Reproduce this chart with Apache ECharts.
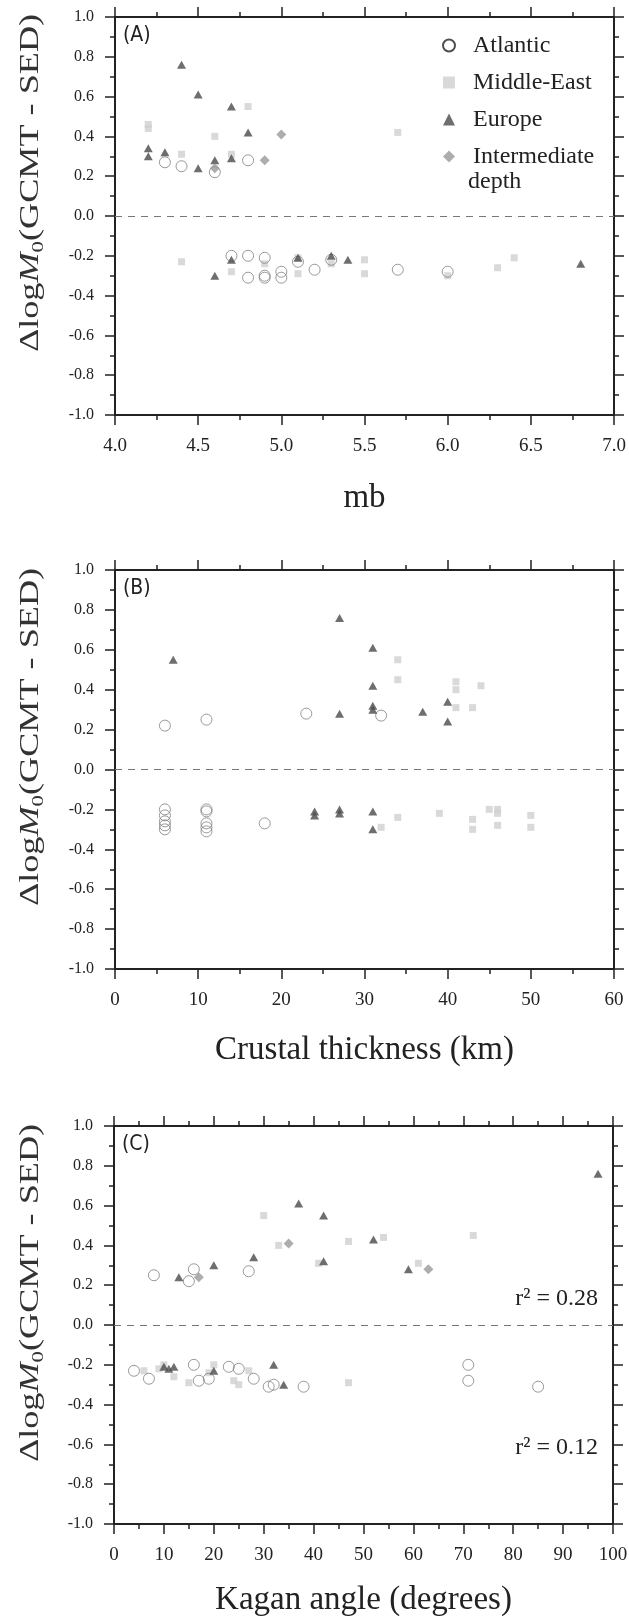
<!DOCTYPE html>
<html>
<head>
<meta charset="utf-8">
<script src="https://cdn.jsdelivr.net/npm/echarts@6/dist/echarts.min.js"></script>
<style>
  html, body { margin: 0; padding: 0; background: #fff; }
  #box { width: 629px; height: 1616px; }
</style>
</head>
<body>
<div id="box"></div>
<script>
// (A) mb
const atlanticA = [[4.3,0.27],[4.4,0.25],[4.6,0.22],[4.8,0.28],[4.7,-0.20],[4.8,-0.20],[4.9,-0.21],[4.8,-0.31],[4.9,-0.30],[4.9,-0.31],[5.0,-0.28],[5.0,-0.31],[5.1,-0.23],[5.2,-0.27],[5.3,-0.22],[5.7,-0.27],[6.0,-0.28]];
const middleEastA = [[4.2,0.44],[4.2,0.46],[4.8,0.55],[4.6,0.40],[4.4,0.31],[4.7,0.31],[5.7,0.42],[4.4,-0.23],[4.7,-0.28],[4.9,-0.24],[5.1,-0.21],[5.1,-0.29],[5.3,-0.24],[5.5,-0.22],[5.5,-0.29],[6.0,-0.30],[6.3,-0.26],[6.4,-0.21]];
const europeA = [[4.4,0.76],[4.5,0.61],[4.7,0.55],[4.8,0.42],[4.2,0.34],[4.2,0.30],[4.3,0.32],[4.5,0.24],[4.6,0.28],[4.7,0.29],[4.6,-0.30],[4.7,-0.22],[5.1,-0.21],[5.3,-0.20],[5.4,-0.22],[6.8,-0.24]];
const intermediateA = [[5.0,0.41],[4.9,0.28],[4.6,0.24]];

// (B) crustal thickness
const atlanticB = [[6,0.22],[11,0.25],[23,0.28],[32,0.27],[6,-0.20],[6,-0.23],[6,-0.26],[6,-0.28],[6,-0.30],[11,-0.20],[11,-0.21],[11,-0.27],[11,-0.29],[11,-0.31],[18,-0.27]];
const middleEastB = [[34,0.55],[34,0.45],[41,0.44],[41,0.40],[44,0.42],[41,0.31],[43,0.31],[32,-0.29],[34,-0.24],[39,-0.22],[43,-0.25],[43,-0.30],[45,-0.20],[46,-0.20],[46,-0.22],[46,-0.28],[50,-0.23],[50,-0.29]];
const europeB = [[27,0.76],[7,0.55],[31,0.61],[31,0.42],[31,0.32],[31,0.30],[27,0.28],[37,0.29],[40,0.34],[40,0.24],[24,-0.21],[24,-0.23],[27,-0.20],[27,-0.22],[31,-0.21],[31,-0.30]];
const intermediateB = [];

// (C) kagan angle
const atlanticC = [[8,0.25],[15,0.22],[16,0.28],[27,0.27],[4,-0.23],[7,-0.27],[16,-0.20],[17,-0.28],[19,-0.27],[23,-0.21],[25,-0.22],[28,-0.27],[31,-0.31],[32,-0.30],[38,-0.31],[71,-0.20],[71,-0.28],[85,-0.31]];
const middleEastC = [[30,0.55],[33,0.40],[47,0.42],[54,0.44],[72,0.45],[41,0.31],[61,0.31],[6,-0.23],[9,-0.22],[10,-0.20],[12,-0.26],[15,-0.29],[19,-0.24],[20,-0.20],[24,-0.28],[25,-0.30],[27,-0.23],[47,-0.29]];
const europeC = [[97,0.76],[37,0.61],[42,0.55],[52,0.43],[28,0.34],[20,0.30],[42,0.32],[59,0.28],[13,0.24],[10,-0.21],[11,-0.22],[12,-0.21],[20,-0.23],[32,-0.20],[34,-0.30]];
const intermediateC = [[35,0.41],[17,0.24],[63,0.28]];

const seriesNames = ['Atlantic', 'Middle-East', 'Europe', 'Intermediate depth'];
const panelLabels = ['(A)', '(B)', '(C)'];
const xTitles = ['mb', 'Crustal thickness (km)', 'Kagan angle (degrees)'];
const xRanges = [[4, 7, 0.5], [0, 60, 10], [0, 100, 10]];
const yRange = [-1, 1, 0.2];
const r2Labels = ['r\u00b2 = 0.28', 'r\u00b2 = 0.12'];

const panels = [
  { 'Atlantic': atlanticA, 'Middle-East': middleEastA, 'Europe': europeA, 'Intermediate depth': intermediateA },
  { 'Atlantic': atlanticB, 'Middle-East': middleEastB, 'Europe': europeB, 'Intermediate depth': intermediateB },
  { 'Atlantic': atlanticC, 'Middle-East': middleEastC, 'Europe': europeC, 'Intermediate depth': intermediateC }
];

const serif = 'Liberation Serif';
const sansCond = 'DejaVu Sans Condensed';
const ink = '#222';

const grids = [
  { left: 115, top: 17, width: 499, height: 398 },
  { left: 115, top: 570, width: 499, height: 399 },
  { left: 114, top: 1126, width: 499, height: 398 }
];
const xNameGaps = [67, 65, 60];
const yNameCenters = [183, 737, 1293];

const styles = {
  'Middle-East': { symbol: 'rect', symbolSize: 7, itemStyle: { color: '#cfcfcf' } },
  'Atlantic': { symbol: 'circle', symbolSize: 11, itemStyle: { color: 'rgba(255,255,255,0)', borderColor: '#808080', borderWidth: 1 } },
  'Europe': { symbol: 'triangle', symbolSize: [9, 8], itemStyle: { color: '#4a4a4a' } },
  'Intermediate depth': { symbol: 'diamond', symbolSize: 10, itemStyle: { color: '#999' } }
};
const drawOrder = ['Middle-East', 'Atlantic', 'Europe', 'Intermediate depth'];

function axisBase() {
  return {
    type: 'value',
    axisLine: { show: true, onZero: false, lineStyle: { color: ink, width: 2 } },
    axisTick: { show: true, inside: false, length: 10, lineStyle: { color: ink, width: 1.5 } },
    minorTick: { show: true, splitNumber: 2, length: 5, lineStyle: { color: ink, width: 1.5 } },
    splitLine: { show: false },
    minorSplitLine: { show: false }
  };
}

const xAxes = [], yAxes = [], series = [];
grids.forEach((g, i) => {
  const [mn, mx, iv] = xRanges[i];
  ['bottom', 'top'].forEach(pos => {
    xAxes.push(Object.assign(axisBase(), {
      gridIndex: i, position: pos, min: mn, max: mx, interval: iv,
      axisLabel: {
        show: pos === 'bottom', margin: 22, fontFamily: serif, fontSize: 19, color: ink,
        formatter: v => i === 0 ? v.toFixed(1) : String(v)
      },
      name: pos === 'bottom' ? xTitles[i] : '',
      nameLocation: 'middle', nameGap: xNameGaps[i], nameMoveOverlap: false,
      nameTextStyle: { fontFamily: serif, fontSize: 33, color: ink }
    }));
  });
  ['left', 'right'].forEach(pos => {
    yAxes.push(Object.assign(axisBase(), {
      gridIndex: i, position: pos, min: yRange[0], max: yRange[1], interval: yRange[2],
      axisLabel: {
        show: pos === 'left', margin: 21, fontFamily: serif, fontSize: 16, color: ink,
        formatter: v => Math.abs(v) < 1e-9 ? '0.0' : v.toFixed(1)
      }
    }));
  });
  drawOrder.forEach((name, k) => {
    const s = {
      name: name, type: 'scatter',
      xAxisIndex: 2 * i, yAxisIndex: 2 * i,
      data: panels[i][name],
      symbol: styles[name].symbol,
      symbolSize: styles[name].symbolSize,
      itemStyle: styles[name].itemStyle,
      emphasis: { disabled: true },
      silent: true
    };
    if (k === 0) {
      s.markLine = {
        silent: true, symbol: ['none', 'none'], label: { show: false },
        lineStyle: { type: [7, 6], color: '#777', width: 1 },
        data: [{ yAxis: 0 }]
      };
    }
    series.push(s);
  });
});

const titles = panelLabels.map((t, i) => ({
  text: t, left: grids[i].left + 8, top: grids[i].top + 8, padding: 0,
  textStyle: { fontFamily: sansCond, fontSize: 21, fontWeight: 'normal', color: ink }
}));
titles.push({ text: r2Labels[0], right: 31, top: 1287, padding: 0,
  textStyle: { fontFamily: serif, fontSize: 24, fontWeight: 'normal', color: ink } });
titles.push({ text: r2Labels[1], right: 31, top: 1436, padding: 0,
  textStyle: { fontFamily: serif, fontSize: 24, fontWeight: 'normal', color: ink } });

const yName = '{t|\u0394log}{m|M}{s|0}{t|(GCMT - SED)}';
const graphics = yNameCenters.map(c => ({
  type: 'text', x: 31, y: c, rotation: Math.PI / 2, scaleX: 1.34, silent: true,
  style: {
    text: yName, fill: '#333', fontSize: 27, fontFamily: serif,
    align: 'center', verticalAlign: 'middle', textAlign: 'center', textVerticalAlign: 'middle',
    rich: {
      t: { fontSize: 27, fontFamily: serif, lineHeight: 32, color: '#333' },
      m: { fontSize: 27, fontFamily: serif, fontStyle: 'italic', lineHeight: 32, color: '#333' },
      s: { fontSize: 17, fontFamily: serif, verticalAlign: 'bottom', lineHeight: 32, color: '#333' }
    }
  }
}));
graphics.push({
  type: 'text', x: 468, y: 182, silent: true,
  style: { text: 'depth', fill: ink, fontSize: 24, fontFamily: serif,
    align: 'left', verticalAlign: 'middle', textAlign: 'left', textVerticalAlign: 'middle' }
});

const chart = echarts.init(document.getElementById('box'), null, { renderer: 'canvas' });
chart.setOption({
  animation: false,
  backgroundColor: '#fff',
  textStyle: { fontFamily: serif },
  title: titles,
  grid: grids.map(g => Object.assign({ containLabel: false, outerBoundsMode: 'none' }, g)),
  xAxis: xAxes,
  yAxis: yAxes,
  legend: {
    orient: 'vertical', left: 437, top: 27,
    itemWidth: 12, itemHeight: 12, itemGap: 10,
    selectedMode: false,
    textStyle: { fontFamily: serif, fontSize: 24, color: ink, lineHeight: 27, padding: [0, 0, 0, 13] },
    formatter: n => n === 'Intermediate depth' ? 'Intermediate' : n,
    data: [
      { name: 'Atlantic', icon: 'circle', itemStyle: { color: '#fff', borderColor: ink, borderWidth: 2 } },
      { name: 'Middle-East', icon: 'rect', itemStyle: { color: '#cfcfcf', borderWidth: 0 } },
      { name: 'Europe', icon: 'triangle', itemStyle: { color: '#4a4a4a', borderWidth: 0 } },
      { name: 'Intermediate depth', icon: 'diamond', itemStyle: { color: '#999', borderWidth: 0 } }
    ]
  },
  graphic: graphics,
  series: series
});
</script>
</body>
</html>
